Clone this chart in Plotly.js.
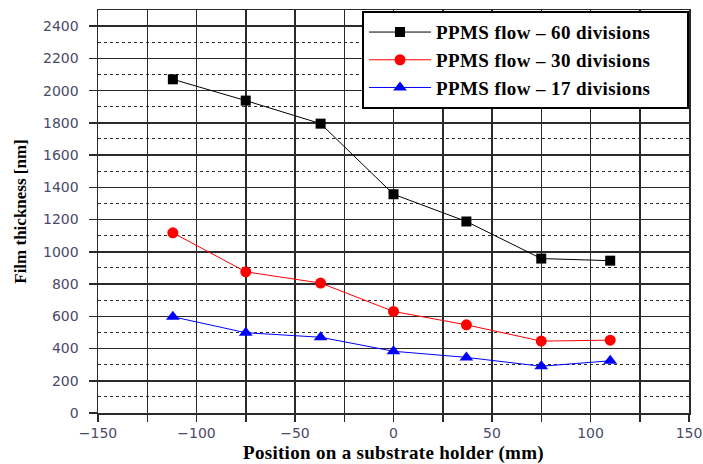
<!DOCTYPE html>
<html>
<head>
<meta charset="utf-8">
<script src="https://cdn.plot.ly/plotly-3.0.1.min.js"></script>
<style>
html,body{margin:0;padding:0;background:#fff}
#chart{width:703px;height:464px}
.legendtext{letter-spacing:0.4px}
.xtitle{letter-spacing:0.3px}
</style>
</head>
<body>
<div id="chart"></div>
<script>
const positions = [-112, -75, -37, 0, 37, 75, 110];
const div60 = [2070, 1938, 1795, 1357, 1188, 958, 945];
const div30 = [1118, 876, 806, 630, 547, 446, 452];
const div17 = [597, 498, 470, 383, 345, 290, 324];
const seriesNames = ['PPMS flow \u2013 60 divisions', 'PPMS flow \u2013 30 divisions', 'PPMS flow \u2013 17 divisions'];
const legendPad = '\u00a0\u00a0\u00a0\u00a0\u00a0\u00a0';

const traces = [
  {x: positions, y: div60, name: seriesNames[0] + legendPad, mode: 'lines+markers',
   line: {color: '#000000', width: 1}, marker: {symbol: 'square', size: 10, color: '#000000'}},
  {x: positions, y: div30, name: seriesNames[1] + legendPad, mode: 'lines+markers',
   line: {color: '#ff0000', width: 1}, marker: {symbol: 'circle', size: 11, color: '#ff0000'}},
  {x: positions, y: div17, name: seriesNames[2] + legendPad, mode: 'lines+markers',
   line: {color: '#0000ff', width: 1}, marker: {symbol: 'triangle-up', size: 12, color: '#0000ff'}}
];

const tickFont = {family: 'DejaVu Sans, sans-serif', size: 14, color: '#4a4a6a'};
const serif = 'Liberation Serif, Times New Roman, serif';

const layout = {
  width: 703, height: 464,
  margin: {l: 98, r: 14, t: 10, b: 51},
  paper_bgcolor: '#ffffff', plot_bgcolor: '#ffffff',
  showlegend: true,
  legend: {x: 1, y: 0.997, xanchor: 'right', yanchor: 'top', bgcolor: '#ffffff',
    bordercolor: '#000000', borderwidth: 2,
    font: {family: serif, size: 19, color: '#000000', weight: 'bold'},
    itemwidth: 62, tracegroupgap: 0},
  xaxis: {range: [-150, 150], dtick: 50, tick0: 0, tickfont: tickFont,
    showgrid: true, gridcolor: '#2a2a2a', gridwidth: 1.5,
    ticks: 'outside', ticklen: 7, tickcolor: '#2a2a2a', tickwidth: 1.5,
    minor: {dtick: 25, showgrid: true, gridcolor: '#2a2a2a', gridwidth: 1.5, ticks: 'outside', ticklen: 7, tickcolor: '#2a2a2a'},
    showline: true, linecolor: '#2a2a2a', linewidth: 1.5, mirror: true, zeroline: false,
    title: {text: 'Position on a substrate holder (mm)', font: {family: serif, size: 19, color: '#000000', weight: 'bold'}, standoff: 5}},
  yaxis: {range: [0, 2500], dtick: 200, tick0: 0, tickfont: tickFont,
    showgrid: true, gridcolor: '#2a2a2a', gridwidth: 1.5,
    ticks: 'outside', ticklen: 8, tickcolor: '#2a2a2a', tickwidth: 1.5,
    ticklabelstandoff: 7,
    minor: {dtick: 100, showgrid: true, gridcolor: '#2a2a2a', gridwidth: 1, griddash: 'dot', ticks: ''},
    showline: true, linecolor: '#2a2a2a', linewidth: 1.5, mirror: true, zeroline: false,
    title: {text: 'Film thickness [nm]', font: {family: serif, size: 17, color: '#000000', weight: 'bold'}, standoff: 12}}
};

Plotly.newPlot('chart', traces, layout, {displayModeBar: false, staticPlot: true});
</script>
</body>
</html>
